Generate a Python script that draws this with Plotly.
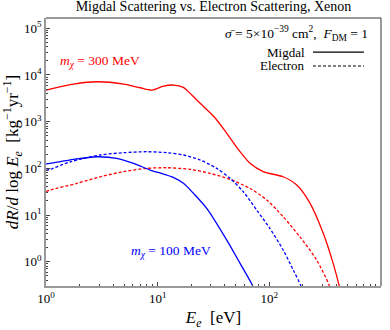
import plotly.graph_objects as go

# ---- data ----
E_mig300 = [1.0, 1.09, 1.77, 2.86, 4.94, 6.97, 8.87, 11.3, 13.8, 17.0, 19.5, 24.0, 32.0, 41.6, 54.7, 67.2, 88.0, 133, 176, 231, 304, 373, 423, 450]
R_mig300 = [4750, 4990, 6380, 7150, 6380, 5320, 4750, 5780, 6080, 5420, 4040, 2470, 1270, 562, 227, 128, 85, 66, 44, 18, 4.06, 0.92, 0.30, 0.15]

E_ele300 = [1.0, 1.09, 1.89, 3.06, 4.94, 8.0, 12.1, 19.5, 29.5, 44.5, 67.2, 95, 133, 188, 265, 344, 360]
R_ele300 = [32, 34.3, 47.7, 66, 85, 100, 103, 95, 78, 58, 37, 21, 9.2, 3.4, 1.09, 0.31, 0.2]

E_mig100 = [1.0, 1.09, 1.77, 2.86, 4.31, 6.08, 8.57, 11.3, 13.8, 17.0, 20.9, 27.5, 41.6, 54.7, 70.6, 75]
R_mig100 = [125, 128, 156, 177, 164, 128, 92, 75.5, 64, 47.8, 29.2, 13.9, 2.9, 0.92, 0.31, 0.2]

E_ele100 = [1.0, 1.09, 1.65, 3.06, 4.94, 8.0, 12.1, 17.0, 24.0, 33.8, 44.5, 58.5, 77, 101, 133, 164, 191, 200]
R_ele100 = [90, 95, 138, 193, 216, 227, 216, 193, 151, 100, 61, 31.5, 12.8, 5.2, 1.78, 0.66, 0.31, 0.2]

x_tick_vals = [1, 10, 100, 1000]
x_tick_text = ["10<sup>0</sup>", "10<sup>1</sup>", "10<sup>2</sup>", "10<sup>3</sup>"]
y_tick_vals = [1, 10, 100, 1000, 10000, 100000]
y_tick_text = ["10<sup>0</sup>", "10<sup>1</sup>", "10<sup>2</sup>", "10<sup>3</sup>", "10<sup>4</sup>", "10<sup>5</sup>"]

RED = "#ff0000"
BLUE = "#0000ff"
FONT = "Liberation Serif"

fig = go.Figure()
lw = 1.3
fig.add_trace(go.Scatter(x=E_mig300, y=R_mig300, mode="lines", line=dict(color=RED, width=lw, shape="spline", smoothing=0.8)))
fig.add_trace(go.Scatter(x=E_ele300, y=R_ele300, mode="lines", line=dict(color=RED, width=lw, dash="3px,2px", shape="spline", smoothing=0.8)))
fig.add_trace(go.Scatter(x=E_mig100, y=R_mig100, mode="lines", line=dict(color=BLUE, width=lw, shape="spline", smoothing=0.8)))
fig.add_trace(go.Scatter(x=E_ele100, y=R_ele100, mode="lines", line=dict(color=BLUE, width=lw, dash="3px,2px", shape="spline", smoothing=0.8)))

minor_x = [m * 10 ** k for k in range(0, 3) for m in range(2, 10)]
minor_y = [m * 10 ** k for k in range(-1, 6) for m in range(2, 10)]

fig.update_layout(
    width=390, height=330,
    margin=dict(l=46, r=9, t=18, b=44, autoexpand=False),
    paper_bgcolor="white", plot_bgcolor="white",
    showlegend=False,
    font=dict(family=FONT, size=13, color="black"),
    title=dict(text="Migdal Scattering vs. Electron Scattering, Xenon",
               x=0.5, xref="paper", y=1 - 6.5 / 330, yref="container",
               xanchor="center", yanchor="middle",
               font=dict(family=FONT, size=14, color="black")),
    xaxis=dict(type="log", range=[0, 3], showgrid=False, zeroline=False, automargin=False,
               showline=True, linecolor="#999999", linewidth=1.6, mirror=False,
               ticks="inside", ticklen=4, tickcolor="#444", tickwidth=1,
               tickvals=x_tick_vals, ticktext=x_tick_text,
               tickfont=dict(family=FONT, size=13),
               minor=dict(ticks="inside", ticklen=2.5, tickcolor="#444", tickvals=minor_x),
               title=dict(text="<i>E<sub>e</sub></i>  [eV]", font=dict(family=FONT, size=17), standoff=6)),
    yaxis=dict(type="log", range=[-0.52, 5.22], showgrid=False, zeroline=False, automargin=False,
               showline=True, linecolor="#999999", linewidth=1.6, mirror=False,
               ticks="inside", ticklen=4, tickcolor="#444", tickwidth=1,
               tickvals=y_tick_vals, ticktext=y_tick_text,
               tickfont=dict(family=FONT, size=13),
               minor=dict(ticks="inside", ticklen=2.5, tickcolor="#444", tickvals=minor_y),
               title=dict(text="<i>dR</i>/<i>d</i> log <i>E<sub>e</sub></i>  [kg<sup>−1</sup>yr<sup>−1</sup>]",
                          font=dict(family=FONT, size=17), standoff=4)),
)

# frame top/right
fig.add_shape(type="line", xref="paper", yref="paper", x0=0, x1=1, y0=1, y1=1, line=dict(color="#333", width=1))
fig.add_shape(type="line", xref="paper", yref="paper", x0=1, x1=1, y0=0, y1=1, line=dict(color="#333", width=1))

# curve labels
fig.add_annotation(xref="paper", yref="paper", x=0.161, y=0.837, xanchor="center", yanchor="middle", showarrow=False,
                   text="<i>m<sub>χ</sub></i> = 300 MeV", font=dict(family=FONT, size=13.5, color=RED))
fig.add_annotation(xref="paper", yref="paper", x=0.372, y=0.127, xanchor="center", yanchor="middle", showarrow=False,
                   text="<i>m<sub>χ</sub></i> = 100 MeV", font=dict(family=FONT, size=13.5, color=BLUE))

# cross-section note
fig.add_annotation(xref="paper", yref="paper", x=0.967, y=0.944, xanchor="right", yanchor="middle", showarrow=False,
                   text="<i>σ̄</i> = 5×10<sup>−39</sup> cm<sup>2</sup>,  <i>F</i><sub>DM</sub> = 1",
                   font=dict(family=FONT, size=13.5, color="black"))

# legend
fig.add_annotation(xref="paper", yref="paper", x=0.779, y=0.873, xanchor="right", yanchor="middle", showarrow=False,
                   text="Migdal", font=dict(family=FONT, size=13, color="black"))
fig.add_annotation(xref="paper", yref="paper", x=0.779, y=0.821, xanchor="right", yanchor="middle", showarrow=False,
                   text="Electron", font=dict(family=FONT, size=13, color="black"))
fig.add_shape(type="line", xref="paper", yref="paper", x0=0.797, x1=0.949, y0=0.873, y1=0.873,
              line=dict(color="black", width=1.3))
fig.add_shape(type="line", xref="paper", yref="paper", x0=0.797, x1=0.949, y0=0.821, y1=0.821,
              line=dict(color="black", width=1.1, dash="3px,2px"))

fig.write_html("out.html", config={"displayModeBar": False},
               post_script="document.body.style.margin='0px';document.body.style.padding='0px';")
